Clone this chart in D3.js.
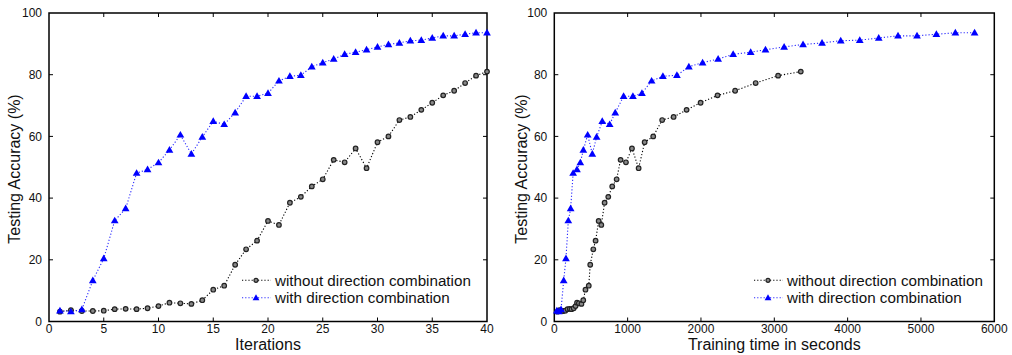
<!DOCTYPE html>
<meta charset="utf-8">
<style>
body { margin: 0; background: #fff; }
text { font-family: "Liberation Sans", Arial, sans-serif; fill: #111; }
.frame { fill: none; stroke: #000; stroke-width: 1.5px; }
.tick-mark { stroke: #000; stroke-width: 1px; }
.line-without { fill: none; stroke: #000; stroke-width: 1.1px; stroke-dasharray: 1.2 2; }
.line-with { fill: none; stroke: #2a2aff; stroke-width: 1.1px; stroke-dasharray: 1.2 2; }
.mk-without { fill: #888; stroke: #222; stroke-width: 1.2px; }
.mk-with { fill: #0000ff; stroke: none; }
</style>
<svg width="1012" height="355"></svg>
<script src="https://cdnjs.cloudflare.com/ajax/libs/d3/7.8.5/d3.min.js"></script>
<script>

// iteration number 1..40
var iterations = [1,2,3,4,5,6,7,8,9,10,11,12,13,14,15,16,17,18,19,20,
                  21,22,23,24,25,26,27,28,29,30,31,32,33,34,35,36,37,38,39,40];

// testing accuracy (%) per iteration
var accWithout = [3.2,3.7,3.4,3.4,3.5,4.0,4.1,4.0,4.3,5.0,6.1,5.9,5.7,6.9,10.3,11.6,18.4,23.4,26.2,32.6,
                  31.3,38.5,40.4,43.8,46.1,52.4,51.6,56.1,49.7,58.1,60.0,65.3,66.3,68.6,70.9,73.3,74.8,77.3,79.7,81.0];
var accWith = [3.5,3.2,3.9,13.3,20.4,32.7,36.6,48.1,49.3,51.5,55.6,60.5,54.3,59.8,64.9,63.9,67.7,73.0,73.0,74.0,
               78.0,79.5,79.8,82.6,83.9,85.1,86.6,87.3,88.1,89.0,89.8,90.3,91.0,91.2,91.9,92.6,92.6,93.1,93.6,93.6];

// cumulative training time (s) at each iteration
var timeWithout = [45,70,100,125,150,180,210,235,265,290,310,335,370,395,425,470,490,532,563,605,
                   641,686,736,790,850,904,977,1059,1150,1232,1349,1471,1627,1804,1995,2226,2466,2746,3052,3361];
var timeWith = [35,62,92,128,159,191,223,257,309,355,396,455,518,577,654,755,831,945,1072,1195,
                1327,1481,1672,1835,2022,2234,2439,2678,2880,3134,3392,3651,3906,4165,4424,4687,4946,5210,5469,5731];

var yTicks = [0,20,40,60,80,100];
var legendLabels = ["without direction combination", "with direction combination"];

var svg = d3.select("svg");
var top_ = 13, bottom = 321.5;

var panels = [
  {x0: 49, x1: 487, domain: [0, 40], ticks: [0,5,10,15,20,25,30,35,40],
   xWithout: iterations, xWith: iterations, title: "Iterations", ylabX: 19.5, legX: 242},
  {x0: 554.3, x1: 994.3, domain: [0, 6000], ticks: [0,1000,2000,3000,4000,5000,6000],
   xWithout: timeWithout, xWith: timeWith, title: "Training time in seconds", ylabX: 526.5, legX: 754}
];

panels.forEach(function(p) {
  var x = d3.scaleLinear().domain(p.domain).range([p.x0, p.x1]);
  var y = d3.scaleLinear().domain([0, 100]).range([bottom, top_]);
  var g = svg.append("g");

  // inward ticks on all four sides
  yTicks.forEach(function(t) {
    if (t === 0 || t === 100) return;
    g.append("line").attr("class", "tick-mark").attr("x1", p.x0).attr("x2", p.x0 + 4).attr("y1", y(t)).attr("y2", y(t));
    g.append("line").attr("class", "tick-mark").attr("x1", p.x1).attr("x2", p.x1 - 4).attr("y1", y(t)).attr("y2", y(t));
  });
  p.ticks.forEach(function(t) {
    if (t === p.domain[0] || t === p.domain[1]) return;
    g.append("line").attr("class", "tick-mark").attr("x1", x(t)).attr("x2", x(t)).attr("y1", bottom).attr("y2", bottom - 4);
    g.append("line").attr("class", "tick-mark").attr("x1", x(t)).attr("x2", x(t)).attr("y1", top_).attr("y2", top_ + 4);
  });

  g.selectAll(".ylab").data(yTicks).enter().append("text")
    .attr("x", p.x0 - 7).attr("y", function(d) { return y(d) + 4.3; })
    .attr("text-anchor", "end").style("font-size", "12px")
    .text(function(d) { return d; });
  g.selectAll(".xlab").data(p.ticks).enter().append("text")
    .attr("x", function(d) { return x(d); }).attr("y", bottom + 11)
    .attr("text-anchor", "middle").style("font-size", "12px")
    .text(function(d) { return d; });

  g.append("text").attr("x", (p.x0 + p.x1) / 2).attr("y", 350)
    .attr("text-anchor", "middle").style("font-size", "16px").text(p.title);
  g.append("text")
    .attr("transform", "translate(" + p.ylabX + "," + 169 + ") rotate(-90)")
    .attr("text-anchor", "middle").style("font-size", "16px").text("Testing Accuracy (%)");

  g.append("rect").attr("class", "frame")
    .attr("x", p.x0).attr("y", top_).attr("width", p.x1 - p.x0).attr("height", bottom - top_);

  var line = d3.line().x(function(d) { return x(d[0]); }).y(function(d) { return y(d[1]); });
  var ptsWithout = accWithout.map(function(v, i) { return [p.xWithout[i], v]; });
  var ptsWith = accWith.map(function(v, i) { return [p.xWith[i], v]; });

  g.append("path").attr("class", "line-without").attr("d", line(ptsWithout));
  g.append("path").attr("class", "line-with").attr("d", line(ptsWith));

  var tri = d3.symbol().type(d3.symbolTriangle).size(26);
  g.selectAll(".cw").data(ptsWithout).enter().append("circle").attr("class", "mk-without")
    .attr("cx", function(d) { return x(d[0]); }).attr("cy", function(d) { return y(d[1]); }).attr("r", 2.3);
  g.selectAll(".tw").data(ptsWith).enter().append("path").attr("class", "mk-with")
    .attr("d", tri)
    .attr("transform", function(d) { return "translate(" + x(d[0]) + "," + (y(d[1]) + 0.5) + ")"; });

  // legend
  legendLabels.forEach(function(lab, i) {
    var ly = 280.3 + i * 17.4;
    g.append("line").attr("class", i === 0 ? "line-without" : "line-with")
      .attr("x1", p.legX).attr("x2", p.legX + 29).attr("y1", ly).attr("y2", ly);
    if (i === 0) {
      g.append("circle").attr("class", "mk-without").attr("cx", p.legX + 14).attr("cy", ly).attr("r", 2);
    } else {
      g.append("path").attr("class", "mk-with").attr("d", d3.symbol().type(d3.symbolTriangle).size(20))
        .attr("transform", "translate(" + (p.legX + 14) + "," + (ly + 0.5) + ")");
    }
    g.append("text").attr("x", p.legX + 33).attr("y", ly + 5.2)
      .style("font-size", "15.2px").text(lab);
  });
});

</script>
